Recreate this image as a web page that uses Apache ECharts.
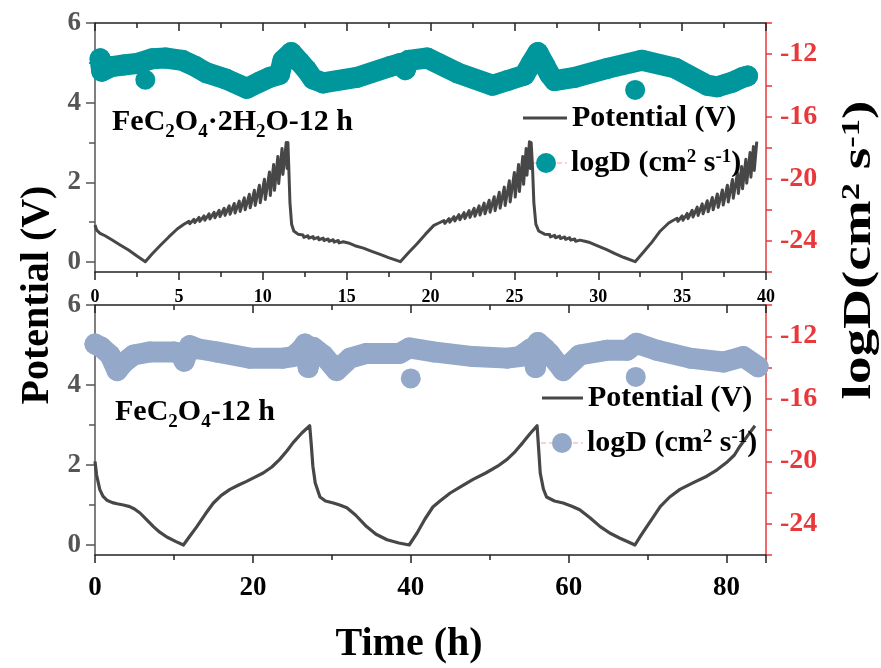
<!DOCTYPE html>
<html>
<head>
<meta charset="utf-8">
<script src="https://cdn.jsdelivr.net/npm/echarts@6/dist/echarts.min.js"></script>
<style>html,body{margin:0;padding:0;background:#fff;}#c{width:881px;height:668px;}</style>
</head>
<body>
<div id="c"></div>
<script>
// ---------- data ----------
const topXTicks = { min: 0, max: 40, interval: 5 };
const botXTicks = { min: 0, max: 85, interval: 20 };
const topXLabels = [0, 5, 10, 15, 20, 25, 30, 35, 40];
const botXLabels = [0, 20, 40, 60, 80];
const potLabelValues = [0, 2, 4, 6];
const potMinorTicks = [1, 3, 5];
const logDLabelValues = [-12, -16, -20, -24];

const seriesNames = ['Potential (V)', 'logD (cm2 s-1)'];

// Top panel: FeC2O4·2H2O-12 h, potential vs time (h)
const potTop = [
[0,0.93],[0.1,0.8],[0.3,0.72],[0.6,0.66],[1.0,0.56],[1.5,0.43],[2.0,0.3],[2.5,0.15],[3.0,0.01],
[3.4,0.2],[3.9,0.42],[4.4,0.63],[4.9,0.83],[5.3,0.95],
[5.6,1.02],[5.65,0.96],[5.9,1.07],[5.95,0.99],[6.2,1.12],[6.25,1.02],[6.5,1.16],[6.55,1.05],[6.8,1.21],[6.85,1.08],
[7.1,1.25],[7.15,1.11],[7.4,1.3],[7.45,1.14],[7.7,1.35],[7.75,1.17],[8.0,1.41],[8.05,1.2],[8.3,1.47],[8.35,1.23],
[8.6,1.53],[8.65,1.27],[8.9,1.61],[8.95,1.31],[9.2,1.7],[9.25,1.36],[9.5,1.8],[9.55,1.42],[9.8,1.93],[9.85,1.49],
[10.1,2.08],[10.15,1.57],[10.4,2.26],[10.45,1.67],[10.65,2.45],[10.7,1.8],[10.9,2.65],[10.95,1.97],[11.15,2.85],[11.2,2.2],
[11.4,3.0],[11.45,2.35],[11.5,3.0],
[11.55,2.4],[11.62,1.5],[11.72,0.95],[11.85,0.78],[12.1,0.7],
[12.4,0.68],[12.45,0.62],[12.7,0.66],[12.75,0.6],[13.0,0.64],[13.05,0.58],[13.3,0.62],[13.35,0.56],[13.6,0.6],[13.65,0.54],
[13.9,0.58],[13.95,0.52],[14.2,0.56],[14.25,0.5],[14.5,0.54],[14.55,0.48],[14.8,0.51],[14.85,0.46],[15.1,0.48],[15.15,0.44],
[15.5,0.41],[16.0,0.35],[16.5,0.27],[17.0,0.19],[17.5,0.11],[18.2,0.01],
[18.7,0.24],[19.2,0.46],[19.7,0.7],[20.2,0.92],[20.5,0.98],
[20.8,1.04],[20.85,0.97],[21.1,1.09],[21.15,1.0],[21.4,1.14],[21.45,1.03],[21.7,1.19],[21.75,1.06],[22.0,1.24],[22.05,1.09],
[22.3,1.29],[22.35,1.12],[22.6,1.35],[22.65,1.15],[22.9,1.41],[22.95,1.18],[23.2,1.48],[23.25,1.21],[23.5,1.55],[23.55,1.25],
[23.8,1.64],[23.85,1.29],[24.1,1.75],[24.15,1.35],[24.4,1.88],[24.45,1.42],[24.7,2.04],[24.75,1.51],[25.0,2.25],[25.05,1.63],
[25.25,2.45],[25.3,1.77],[25.5,2.65],[25.55,1.95],[25.7,2.85],[25.75,2.18],[25.9,3.02],[25.95,2.35],[26.0,3.0],
[26.08,2.4],[26.16,1.5],[26.28,0.95],[26.45,0.78],[26.8,0.7],
[27.1,0.69],[27.15,0.63],[27.4,0.67],[27.45,0.61],[27.7,0.65],[27.75,0.59],[28.0,0.63],[28.05,0.57],[28.3,0.61],[28.35,0.55],
[28.6,0.58],[28.65,0.52],[28.9,0.55],[28.95,0.5],[29.2,0.52],[29.25,0.47],[29.5,0.49],[29.55,0.45],
[30.0,0.4],[30.5,0.31],[31.0,0.21],[31.5,0.12],[32.2,0.01],
[32.7,0.25],[33.2,0.5],[33.7,0.78],[34.2,0.98],[34.4,1.03],
[34.7,1.1],[34.75,1.02],[35.0,1.16],[35.05,1.05],[35.3,1.22],[35.35,1.09],[35.6,1.3],[35.65,1.13],[35.9,1.38],[35.95,1.17],
[36.2,1.46],[36.25,1.21],[36.5,1.54],[36.55,1.26],[36.8,1.62],[36.85,1.31],[37.1,1.71],[37.15,1.37],[37.4,1.81],[37.45,1.43],
[37.7,1.93],[37.75,1.51],[38.0,2.07],[38.05,1.6],[38.3,2.24],[38.35,1.72],[38.55,2.4],[38.6,1.84],[38.8,2.58],[38.85,1.98],
[39.05,2.75],[39.1,2.13],[39.25,2.9],[39.3,2.3],[39.45,3.02]
];

// Top panel logD (cm2 s-1)
const logDTop = [
[0.3,-12.3],[0.4,-13.1],[1.0,-12.8],[1.7,-12.7],[2.5,-12.6],[3.4,-12.3],[4.2,-12.25],[5.2,-12.4],[6.0,-12.8],
[6.65,-13.2],[7.8,-13.6],[9.05,-14.2],[9.8,-13.8],[10.4,-13.5],[11.0,-13.3],[11.2,-12.4],[11.7,-11.9],[12.2,-12.5],
[12.6,-13.0],[13.0,-13.6],[13.6,-13.85],[15.6,-13.5],[17.6,-12.8],[18.2,-12.6],[18.5,-13.0],[18.7,-12.4],[19.8,-12.25],
[21.6,-13.2],[23.7,-14.0],[24.6,-13.7],[25.6,-13.35],[26.0,-12.6],[26.4,-11.9],[26.8,-12.7],[27.1,-13.3],[27.4,-13.7],
[28.6,-13.5],[30.6,-12.9],[32.6,-12.4],[34.6,-12.9],[36.5,-14.0],[37.1,-14.1],[38.0,-13.8],[38.6,-13.5],[38.9,-13.4]
];
const logDTopOut = [[3.0,-13.65],[32.2,-14.3]];

// Bottom panel: FeC2O4-12 h
const potBot = [
[0,2.09],[0.2,1.75],[0.6,1.39],[1.0,1.22],[1.5,1.12],[2.2,1.06],[2.8,1.03],[3.6,1.0],[4.4,0.96],[5.0,0.9],[5.7,0.8],
[6.5,0.64],[7.4,0.46],[8.2,0.32],[9.1,0.2],[10.2,0.09],[11.2,0.0],
[12.0,0.22],[12.9,0.46],[14.0,0.78],[15.0,1.05],[16.0,1.24],[17.1,1.39],[18.2,1.5],[19.2,1.59],[20.2,1.69],[21.3,1.8],
[22.4,1.95],[23.4,2.14],[24.3,2.35],[25.1,2.56],[26.2,2.8],[27.2,2.98],
[27.4,2.5],[27.6,1.97],[27.9,1.55],[28.5,1.2],[29.2,1.1],[30.2,1.05],[31.0,1.0],[31.9,0.93],[33.0,0.75],[34.4,0.46],
[35.6,0.27],[37.0,0.13],[38.5,0.05],[39.8,0.0],
[40.8,0.3],[41.8,0.65],[42.8,0.95],[43.7,1.1],[45.0,1.3],[46.5,1.48],[47.9,1.64],[49.5,1.8],[51.0,1.97],[52.2,2.14],
[53.2,2.33],[54.2,2.56],[55.1,2.78],[56.0,2.98],
[56.2,2.4],[56.4,1.8],[56.8,1.4],[57.2,1.2],[58.2,1.1],[59.3,1.05],[60.4,0.97],[61.4,0.88],[62.7,0.68],[64.0,0.46],
[65.2,0.3],[66.5,0.17],[67.5,0.08],[68.4,0.0],
[69.1,0.22],[69.9,0.46],[70.8,0.72],[71.6,0.96],[72.8,1.2],[74.1,1.39],[75.8,1.56],[77.5,1.72],[78.8,1.88],[80.0,2.06],
[81.0,2.25],[81.7,2.47],[82.7,2.74],[83.6,2.98]
];
const logDBot = [
[0,-12.5],[0.8,-12.7],[1.9,-13.2],[2.8,-14.2],[3.6,-13.7],[4.9,-13.2],[7.0,-13.0],[10.0,-13.0],[10.8,-13.1],[11.3,-13.6],
[12.0,-12.6],[13.0,-12.8],[15.4,-13.0],[19.6,-13.4],[23.8,-13.4],[25.1,-13.3],[26.2,-12.8],[26.6,-12.5],[27.0,-14.0],
[27.6,-12.7],[28.9,-13.2],[30.6,-14.2],[32.3,-13.4],[34.4,-13.1],[38.6,-13.1],[39.8,-12.75],[42.9,-13.0],[47.9,-13.3],
[52.2,-13.4],[53.8,-13.3],[55.2,-12.8],[55.8,-14.0],[56.1,-12.4],[57.0,-12.8],[57.6,-13.1],[59.3,-14.2],[61.4,-13.2],
[64.8,-12.9],[67.4,-12.9],[68.6,-12.45],[71.2,-12.9],[75.4,-13.4],[79.6,-13.65],[82.1,-13.3],[84.0,-13.95]
];
const logDBotOut = [[40.0,-14.7],[68.5,-14.6]];

// ---------- styling ----------
const FF = '"Liberation Serif", "Times New Roman", serif';
const LINE = '#474747';
const TEAL = '#00979c';
const BLUE = '#94a9c9';
const RED = '#e8383a';
const GREY = '#555555';
const BAND = 21;

const chart = echarts.init(document.getElementById('c'), null, { renderer: 'canvas' });

const grids = [
  { left: 95, right: 115, top: 23, height: 249 },
  { left: 95, right: 115, top: 305, height: 250 }
];

function xBottom(gi, t, labels, fs, margin) {
  return {
    type: 'value', gridIndex: gi, position: 'bottom', min: t.min, max: t.max, interval: t.interval,
    axisLine: { show: true, onZero: false, lineStyle: { color: '#222', width: 1.5 } },
    axisTick: { show: true, inside: false, length: 8, lineStyle: { color: '#222', width: 1.5 } },
    minorTick: { show: true, splitNumber: 2, length: 5, lineStyle: { color: '#222', width: 1.5 } },
    axisLabel: { show: true, customValues: labels, color: '#000', fontFamily: FF, fontWeight: 'bold', fontSize: fs, margin: margin },
    splitLine: { show: false }, minorSplitLine: { show: false }
  };
}
function xTop(gi, t) {
  return {
    type: 'value', gridIndex: gi, position: 'top', min: t.min, max: t.max, interval: t.interval,
    axisLine: { show: true, onZero: false, lineStyle: { color: '#222', width: 1.5 } },
    axisTick: { show: true, inside: true, length: 8, lineStyle: { color: '#222', width: 1.5 } },
    minorTick: { show: true, splitNumber: 2, length: 5, lineStyle: { color: '#222', width: 1.5 } },
    axisLabel: { show: false }, splitLine: { show: false }
  };
}
function yLeft(gi) {
  return {
    type: 'value', gridIndex: gi, position: 'left', min: -0.25, max: 6,
    axisLine: { show: true, onZero: false, lineStyle: { color: GREY, width: 1.5 } },
    axisTick: { show: true, inside: false, length: 9, customValues: potLabelValues, lineStyle: { color: GREY, width: 1.5 } },
    axisLabel: { show: true, customValues: potLabelValues, color: GREY, fontFamily: FF, fontWeight: 'bold', fontSize: 27, margin: 14 },
    splitLine: { show: false }
  };
}
function yLeftMinor(gi) {
  return {
    type: 'value', gridIndex: gi, position: 'left', min: -0.25, max: 6,
    axisLine: { show: false },
    axisTick: { show: true, inside: false, length: 6, customValues: potMinorTicks, lineStyle: { color: GREY, width: 1.5 } },
    axisLabel: { show: false }, splitLine: { show: false }
  };
}
function yRight(gi) {
  return {
    type: 'value', gridIndex: gi, position: 'right', min: -26, max: -10, interval: 2,
    axisLine: { show: true, onZero: false, lineStyle: { color: RED, width: 1.5 } },
    axisTick: { show: true, inside: false, length: 6, lineStyle: { color: RED, width: 1.5 } },
    axisLabel: { show: true, customValues: logDLabelValues, color: RED, fontFamily: FF, fontWeight: 'bold', fontSize: 28, margin: 14 },
    splitLine: { show: false }
  };
}

const mainTok = { fontFamily: FF, fontWeight: 'bold', fontSize: 30, lineHeight: 30, verticalAlign: 'top', color: '#000' };
const subTok = { fontFamily: FF, fontWeight: 'bold', fontSize: 19, lineHeight: 19, verticalAlign: 'top', padding: [16, 0, 0, 0], color: '#000' };
const supTok = { fontFamily: FF, fontWeight: 'bold', fontSize: 19, lineHeight: 19, verticalAlign: 'top', color: '#000' };

function legendFormatter(name) {
  if (name === seriesNames[1]) return '{m|logD (cm}{sup|2}{m| s}{sup|-1}{m|)}';
  return '{m|' + name + '}';
}
function legendCfg(idx, left, top, w, h, icon, color) {
  return {
    left: left, top: top, orient: 'vertical', padding: 0, itemGap: 0, itemWidth: w, itemHeight: h,
    selectedMode: false,
    formatter: legendFormatter,
    textStyle: { fontFamily: FF, fontWeight: 'bold', fontSize: 30, color: '#000', rich: { m: mainTok, sup: supTok } },
    data: [{ name: seriesNames[idx], icon: icon, itemStyle: { color: color, borderWidth: 0, opacity: 1 } }]
  };
}

function labelText(i) {
  if (i === 0) return '{m|FeC}{sub|2}{m|O}{sub|4}{m|·2H}{sub|2}{m|O-12 h}';
  return '{m|FeC}{sub|2}{m|O}{sub|4}{m|-12 h}';
}

const option = {
  animation: false,
  backgroundColor: '#fff',
  grid: grids,
  xAxis: [xBottom(0, topXTicks, topXLabels, 18, 16), xTop(0, topXTicks), xBottom(1, botXTicks, botXLabels, 27, 20), xTop(1, botXTicks)],
  yAxis: [yLeft(0), yRight(0), yLeftMinor(0), yLeft(1), yRight(1), yLeftMinor(1)],
  legend: [
    legendCfg(0, 523, 103, 44, 3, 'rect', LINE),
    legendCfg(1, 536, 148, 40, 20, 'circle', TEAL),
    legendCfg(0, 542, 383, 41, 3, 'rect', LINE),
    legendCfg(1, 552, 428, 40, 20, 'circle', BLUE)
  ],
  series: [
    { name: seriesNames[1], type: 'line', xAxisIndex: 0, yAxisIndex: 1, data: logDTop, symbol: 'circle', symbolSize: BAND,
      showSymbol: true, itemStyle: { color: TEAL }, lineStyle: { color: TEAL, width: BAND, cap: 'round', join: 'round' }, z: 2 },
    { name: seriesNames[1], type: 'scatter', xAxisIndex: 0, yAxisIndex: 1, data: logDTopOut, symbol: 'circle', symbolSize: 20,
      itemStyle: { color: TEAL, opacity: 1 }, z: 2 },
    { name: seriesNames[0], type: 'line', xAxisIndex: 0, yAxisIndex: 0, data: potTop, symbol: 'none',
      itemStyle: { color: LINE }, lineStyle: { color: LINE, width: 3, join: 'round' }, z: 3 },
    { name: seriesNames[1], type: 'line', xAxisIndex: 2, yAxisIndex: 4, data: logDBot, symbol: 'circle', symbolSize: BAND,
      showSymbol: true, itemStyle: { color: BLUE }, lineStyle: { color: BLUE, width: BAND, cap: 'round', join: 'round' }, z: 2 },
    { name: seriesNames[1], type: 'scatter', xAxisIndex: 2, yAxisIndex: 4, data: logDBotOut, symbol: 'circle', symbolSize: 20,
      itemStyle: { color: BLUE, opacity: 1 }, z: 2 },
    { name: seriesNames[0], type: 'line', xAxisIndex: 2, yAxisIndex: 3, data: potBot, symbol: 'none',
      itemStyle: { color: LINE }, lineStyle: { color: LINE, width: 3.2, join: 'round' }, z: 3 }
  ],
  graphic: [
    { type: 'line', z: 1, shape: { x1: 525, y1: 163, x2: 567, y2: 163 }, style: { stroke: '#f2a3a3', lineWidth: 1, lineDash: [5, 3] } },
    { type: 'line', z: 1, shape: { x1: 541, y1: 443, x2: 583, y2: 443 }, style: { stroke: '#f2a3a3', lineWidth: 1, lineDash: [5, 3] } },
    { type: 'text', x: 112, y: 107, style: { text: labelText(0), rich: { m: mainTok, sub: subTok }, align: 'left', verticalAlign: 'top', textAlign: 'left', textVerticalAlign: 'top' } },
    { type: 'text', x: 115, y: 397, style: { text: labelText(1), rich: { m: mainTok, sub: subTok }, align: 'left', verticalAlign: 'top', textAlign: 'left', textVerticalAlign: 'top' } },
    { type: 'text', x: 38, y: 295, rotation: Math.PI / 2,
      style: { text: 'Potential (V)', font: 'bold 40px ' + FF, fill: '#000', align: 'center', verticalAlign: 'middle', textAlign: 'center', textVerticalAlign: 'middle' } },
    { type: 'text', x: 409, y: 645,
      style: { text: 'Time (h)', font: 'bold 40px ' + FF, fill: '#000', align: 'center', verticalAlign: 'middle', textAlign: 'center', textVerticalAlign: 'middle' } },
    { type: 'text', x: 860, y: 250, rotation: Math.PI / 2, scaleX: 1.38, scaleY: 1,
      style: { text: '{t|logD(cm}{s|2}{t| s}{s|-1}{t|)}', align: 'center', verticalAlign: 'middle', textAlign: 'center', textVerticalAlign: 'middle',
        rich: { t: { fontFamily: FF, fontWeight: 'bold', fontSize: 40, lineHeight: 40, verticalAlign: 'top', color: '#000' },
                s: { fontFamily: FF, fontWeight: 'bold', fontSize: 25, lineHeight: 25, verticalAlign: 'top', color: '#000' } } } }
  ]
};
chart.setOption(option);
</script>
</body>
</html>
